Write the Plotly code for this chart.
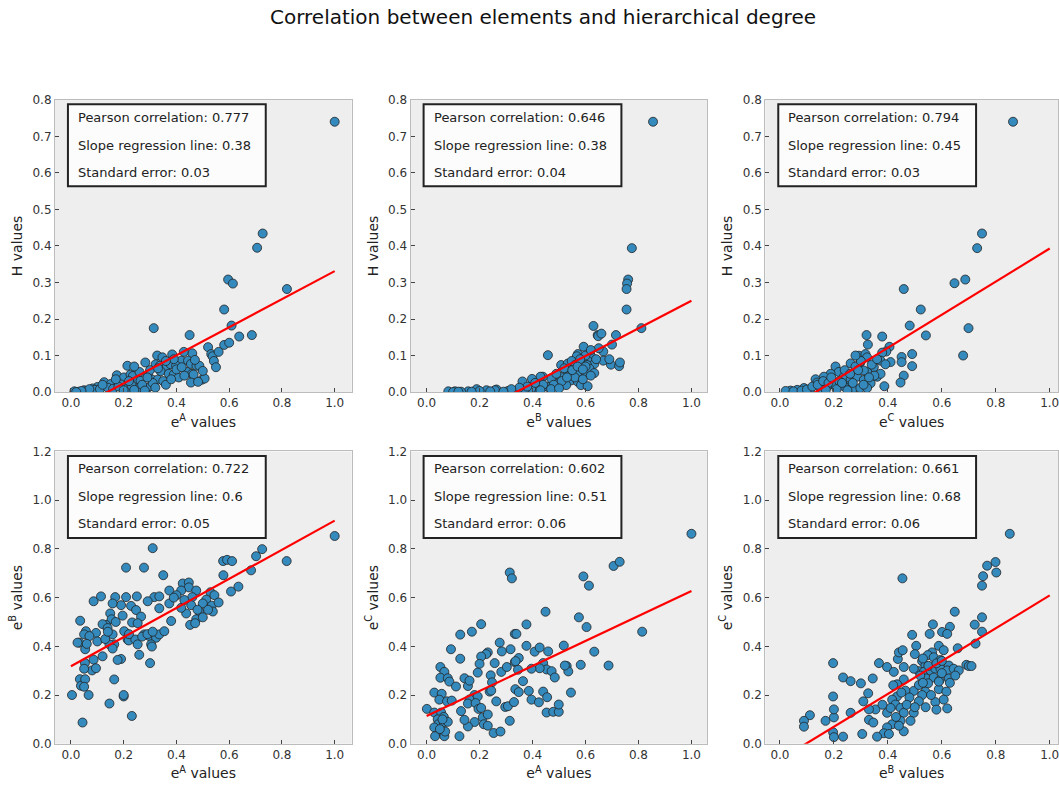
import plotly.graph_objects as go

# ---------------- data ----------------
title_text = "Correlation between elements and hierarchical degree"

x_titles = ["e<sup>A</sup> values", "e<sup>B</sup> values", "e<sup>C</sup> values",
            "e<sup>A</sup> values", "e<sup>A</sup> values", "e<sup>B</sup> values"]
y_titles = ["H values", "H values", "H values",
            "e<sup>B</sup> values", "e<sup>C</sup> values", "e<sup>C</sup> values"]

pearson = ["0.777", "0.646", "0.794", "0.722", "0.602", "0.661"]
slope_txt = ["0.38", "0.38", "0.45", "0.6", "0.51", "0.68"]
std_err = ["0.03", "0.04", "0.03", "0.05", "0.06", "0.06"]

# regression lines as drawn (slope, intercept), over x in [0, 1]
line_slope = [0.384, 0.378, 0.453, 0.598, 0.513, 0.674]
line_intercept = [-0.053, -0.128, -0.06, 0.318, 0.114, -0.065]
line_x = [0.0, 1.0]

x_ticks = [0.0, 0.2, 0.4, 0.6, 0.8, 1.0]
y_ticks_top = [0.0, 0.1, 0.2, 0.3, 0.4, 0.5, 0.6, 0.7, 0.8]
y_ticks_bottom = [0.0, 0.2, 0.4, 0.6, 0.8, 1.0, 1.2]

eA_H = [(1.0,0.74),(0.727,0.434),(0.706,0.395),(0.596,0.308),(0.614,0.297),(0.819,0.282),(0.581,0.226),
 (0.314,0.175),(0.609,0.182),(0.45,0.156),(0.638,0.152),(0.686,0.156),(0.581,0.129),(0.52,0.123),(0.532,0.104),
 (0.537,0.098),(0.542,0.085),(0.55,0.068),(0.46,0.106),(0.428,0.11),(0.384,0.103),(0.327,0.1),(0.347,0.095),
 (0.282,0.081),(0.214,0.072),(0.418,0.086),(0.444,0.086),(0.455,0.077),(0.476,0.072),(0.487,0.072),(0.321,0.076),
 (0.337,0.072),(0.363,0.071),(0.378,0.076),(0.399,0.072),(0.34,0.057),(0.371,0.05),(0.39,0.048),(0.409,0.04),
 (0.44,0.055),(0.459,0.05),(0.465,0.048),(0.497,0.034),(0.507,0.037),(0.455,0.026),(0.482,0.028),(0.174,0.046),
 (0.201,0.04),(0.226,0.048),(0.235,0.044),(0.255,0.034),(0.264,0.031),(0.292,0.045),(0.308,0.034),(0.329,0.034),
 (0.126,0.027),(0.151,0.022),(0.189,0.021),(0.214,0.01),(0.252,0.01),(0.289,0.01),(0.302,0.016),(0.101,0.014),
 (0.082,0.01),(0.05,0.005),(0.013,0.002),(0.03,0.001),(0.06,0.003),(0.09,0.006),(0.11,0.008),(0.14,0.012),
 (0.16,0.009),(0.18,0.015),(0.2,0.005),(0.23,0.018),(0.24,0.006),(0.27,0.02),(0.28,0.004),(0.31,0.025),
 (0.32,0.012),(0.35,0.03),(0.36,0.02),(0.38,0.035),(0.4,0.062),(0.42,0.068),(0.43,0.045),(0.47,0.088),
 (0.5,0.058),(0.39,0.09),(0.3,0.06),(0.26,0.055),(0.24,0.07),(0.36,0.085),(0.33,0.065),(0.29,0.04),
 (0.22,0.03),(0.17,0.035),(0.12,0.02),(0.07,0.008),(0.04,0.003),(0.02,0.0),(0.6,0.135),(0.56,0.11)]

eB_H = [(0.855,0.74),(0.775,0.394),(0.761,0.308),(0.757,0.297),(0.755,0.282),(0.755,0.226),(0.811,0.175),
 (0.63,0.181),(0.646,0.156),(0.648,0.153),(0.715,0.156),(0.70,0.13),(0.667,0.111),(0.667,0.086),(0.696,0.075),
 (0.727,0.071),(0.73,0.081),(0.593,0.124),(0.571,0.104),(0.567,0.098),(0.615,0.104),(0.621,0.098),(0.458,0.101),
 (0.508,0.074),(0.533,0.078),(0.548,0.085),(0.562,0.075),(0.608,0.086),(0.633,0.077),(0.606,0.074),(0.558,0.059),
 (0.579,0.055),(0.602,0.05),(0.615,0.064),(0.633,0.052),(0.533,0.055),(0.504,0.042),(0.47,0.037),(0.439,0.042),
 (0.43,0.042),(0.398,0.036),(0.362,0.029),(0.546,0.032),(0.571,0.028),(0.583,0.019),(0.608,0.016),(0.527,0.019),
 (0.496,0.023),(0.458,0.014),(0.42,0.01),(0.395,0.01),(0.37,0.005),(0.333,0.003),(0.307,0.003),(0.264,0.007),
 (0.258,0.005),(0.226,0.005),(0.189,0.008),(0.157,0.002),(0.107,0.002),(0.082,0.002),(0.52,0.065),(0.54,0.045),
 (0.56,0.04),(0.59,0.035),(0.6,0.07),(0.62,0.045),(0.64,0.09),(0.65,0.12),(0.6,0.1),(0.58,0.09),(0.55,0.06),
 (0.51,0.03),(0.49,0.05),(0.48,0.02),(0.47,0.008),(0.44,0.02),(0.43,0.005),(0.41,0.025),(0.38,0.015),
 (0.35,0.012),(0.32,0.008),(0.29,0.001),(0.24,0.002),(0.2,0.003),(0.17,0.001),(0.13,0.001),(0.1,0.0),
 (0.12,0.001),(0.5,0.01),(0.53,0.04),(0.57,0.07),(0.59,0.062),(0.62,0.115),(0.66,0.16),(0.69,0.09)]

eC_H = [(0.864,0.74),(0.749,0.434),(0.731,0.394),(0.647,0.298),(0.687,0.308),(0.459,0.282),(0.522,0.226),
 (0.481,0.182),(0.699,0.175),(0.541,0.155),(0.679,0.1),(0.321,0.156),(0.379,0.152),(0.326,0.13),(0.406,0.124),
 (0.394,0.111),(0.379,0.108),(0.451,0.096),(0.451,0.082),(0.49,0.104),(0.49,0.071),(0.459,0.045),(0.447,0.026),
 (0.387,0.016),(0.41,0.082),(0.373,0.086),(0.391,0.076),(0.293,0.0995),(0.317,0.104),(0.262,0.0785),(0.298,0.081),
 (0.323,0.095),(0.348,0.068),(0.323,0.055),(0.36,0.042),(0.373,0.05),(0.311,0.059),(0.206,0.07),(0.218,0.055),
 (0.188,0.05),(0.163,0.042),(0.132,0.035),(0.138,0.026),(0.237,0.042),(0.262,0.033),(0.286,0.042),(0.311,0.033),
 (0.336,0.024),(0.249,0.016),(0.274,0.011),(0.298,0.011),(0.323,0.011),(0.237,0.016),(0.2,0.02),(0.175,0.016),
 (0.15,0.011),(0.113,0.008),(0.089,0.011),(0.064,0.006),(0.039,0.004),(0.021,0.003),(0.05,0.002),(0.08,0.004),
 (0.1,0.007),(0.12,0.015),(0.14,0.02),(0.16,0.03),(0.18,0.025),(0.22,0.03),(0.24,0.06),(0.26,0.05),(0.28,0.07),
 (0.3,0.085),(0.31,0.02),(0.34,0.075),(0.35,0.045),(0.27,0.025),(0.25,0.005),(0.21,0.008),(0.19,0.04),
 (0.17,0.006),(0.23,0.025),(0.29,0.06),(0.33,0.04),(0.36,0.09),(0.28,0.1)]

eA_eB = [(1.0,0.853),(0.818,0.75),(0.725,0.799),(0.702,0.77),(0.683,0.712),(0.577,0.75),(0.592,0.755),
 (0.611,0.75),(0.578,0.692),(0.607,0.625),(0.635,0.645),(0.31,0.803),(0.209,0.723),(0.277,0.723),(0.35,0.692),
 (0.424,0.658),(0.447,0.662),(0.447,0.642),(0.475,0.629),(0.418,0.629),(0.373,0.629),(0.4,0.61),(0.46,0.602),
 (0.529,0.622),(0.544,0.61),(0.513,0.592),(0.5,0.576),(0.534,0.567),(0.538,0.543),(0.487,0.543),(0.475,0.511),
 (0.5,0.519),(0.437,0.535),(0.456,0.569),(0.418,0.558),(0.452,0.488),(0.471,0.495),(0.38,0.504),(0.335,0.556),
 (0.373,0.576),(0.316,0.602),(0.335,0.605),(0.291,0.585),(0.086,0.585),(0.114,0.605),(0.168,0.602),(0.209,0.602),
 (0.25,0.605),(0.19,0.569),(0.158,0.576),(0.228,0.566),(0.247,0.549),(0.266,0.522),(0.232,0.498),(0.253,0.495),
 (0.196,0.526),(0.149,0.535),(0.154,0.511),(0.133,0.488),(0.12,0.491),(0.139,0.475),(0.095,0.455),(0.057,0.462),
 (0.05,0.449),(0.07,0.442),(0.032,0.415),(0.025,0.415),(0.054,0.388),(0.035,0.505),(0.202,0.462),(0.215,0.428),
 (0.219,0.424),(0.244,0.428),(0.253,0.408),(0.259,0.365),(0.278,0.449),(0.297,0.442),(0.314,0.452),(0.323,0.435),
 (0.335,0.449),(0.354,0.462),(0.304,0.408),(0.307,0.399),(0.3,0.331),(0.158,0.449),(0.164,0.408),(0.146,0.408),
 (0.158,0.391),(0.12,0.359),(0.086,0.345),(0.08,0.301),(0.095,0.31),(0.053,0.331),(0.05,0.308),(0.19,0.348),
 (0.177,0.344),(0.034,0.265),(0.038,0.238),(0.054,0.265),(0.05,0.234),(0.067,0.2),(0.004,0.2),(0.146,0.165),
 (0.164,0.264),(0.2,0.194),(0.231,0.114),(0.044,0.087),(0.06,0.41),(0.1,0.42),(0.13,0.43),(0.14,0.46),
 (0.17,0.5),(0.22,0.45),(0.27,0.44),(0.29,0.45),(0.31,0.46),(0.39,0.6),(0.43,0.59),(0.48,0.55),(0.52,0.55),
 (0.56,0.58),(0.2,0.2)]

eA_eC = [(1.0,0.862),(0.706,0.73),(0.729,0.747),(0.592,0.687),(0.613,0.649),(0.314,0.703),(0.322,0.679),
 (0.814,0.46),(0.449,0.542),(0.575,0.519),(0.604,0.479),(0.377,0.49),(0.333,0.451),(0.339,0.451),(0.206,0.491),
 (0.171,0.46),(0.127,0.448),(0.092,0.388),(0.127,0.349),(0.276,0.415),(0.317,0.388),(0.284,0.379),(0.231,0.375),
 (0.225,0.368),(0.206,0.358),(0.2,0.328),(0.193,0.292),(0.257,0.331),(0.282,0.295),(0.303,0.315),(0.333,0.335),
 (0.348,0.352),(0.377,0.402),(0.408,0.378),(0.427,0.395),(0.459,0.379),(0.518,0.403),(0.44,0.331),(0.453,0.305),
 (0.427,0.31),(0.472,0.298),(0.484,0.272),(0.396,0.308),(0.345,0.304),(0.336,0.339),(0.582,0.324),(0.529,0.319),
 (0.535,0.297),(0.522,0.321),(0.633,0.378),(0.687,0.321),(0.052,0.315),(0.067,0.295),(0.052,0.271),(0.08,0.269),
 (0.086,0.255),(0.111,0.235),(0.143,0.269),(0.156,0.237),(0.162,0.259),(0.242,0.281),(0.247,0.252),(0.238,0.214),
 (0.263,0.174),(0.244,0.218),(0.181,0.2),(0.193,0.194),(0.162,0.182),(0.156,0.165),(0.185,0.167),(0.196,0.143),
 (0.206,0.147),(0.212,0.108),(0.231,0.12),(0.216,0.08),(0.231,0.074),(0.253,0.044),(0.279,0.05),(0.181,0.089),
 (0.156,0.071),(0.143,0.098),(0.13,0.134),(0.124,0.031),(0.314,0.094),(0.297,0.151),(0.307,0.154),(0.33,0.171),
 (0.335,0.224),(0.348,0.212),(0.364,0.257),(0.386,0.217),(0.396,0.181),(0.424,0.17),(0.44,0.214),(0.455,0.191),
 (0.453,0.128),(0.478,0.131),(0.499,0.131),(0.499,0.161),(0.545,0.21),(0.029,0.21),(0.057,0.205),(0.048,0.181),
 (0.077,0.174),(0.095,0.177),(0.001,0.143),(0.029,0.128),(0.055,0.128),(0.065,0.11),(0.042,0.1),(0.044,0.08),
 (0.065,0.087),(0.029,0.067),(0.061,0.047),(0.032,0.031),(0.067,0.031),(0.07,0.05),(0.05,0.06),(0.08,0.09),
 (0.06,0.1)]

eB_eC = [(0.852,0.862),(0.799,0.746),(0.802,0.703),(0.768,0.731),(0.753,0.688),(0.749,0.649),(0.454,0.679),
 (0.648,0.542),(0.749,0.519),(0.722,0.489),(0.749,0.46),(0.725,0.411),(0.567,0.49),(0.63,0.48),(0.601,0.459),
 (0.62,0.451),(0.555,0.451),(0.49,0.447),(0.505,0.402),(0.5,0.368),(0.589,0.402),(0.607,0.384),(0.659,0.392),
 (0.564,0.375),(0.548,0.364),(0.57,0.355),(0.527,0.339),(0.539,0.321),(0.595,0.344),(0.626,0.321),(0.367,0.331),
 (0.397,0.315),(0.422,0.295),(0.437,0.348),(0.441,0.375),(0.455,0.384),(0.459,0.315),(0.197,0.331),(0.515,0.298),
 (0.533,0.295),(0.558,0.301),(0.576,0.308),(0.595,0.308),(0.62,0.301),(0.644,0.308),(0.663,0.301),(0.691,0.324),
 (0.7,0.319),(0.71,0.319),(0.542,0.268),(0.57,0.272),(0.592,0.261),(0.626,0.268),(0.549,0.248),(0.589,0.224),
 (0.589,0.255),(0.617,0.214),(0.607,0.181),(0.62,0.145),(0.576,0.171),(0.539,0.214),(0.527,0.2),(0.515,0.174),
 (0.496,0.217),(0.515,0.241),(0.496,0.308),(0.459,0.264),(0.434,0.244),(0.465,0.218),(0.434,0.194),(0.416,0.181),
 (0.428,0.161),(0.447,0.147),(0.459,0.127),(0.397,0.127),(0.41,0.147),(0.416,0.08),(0.447,0.094),(0.459,0.051),
 (0.496,0.127),(0.484,0.094),(0.441,0.074),(0.397,0.067),(0.385,0.043),(0.404,0.04),(0.36,0.029),(0.305,0.04),
 (0.234,0.029),(0.197,0.047),(0.2,0.027),(0.169,0.094),(0.111,0.117),(0.089,0.094),(0.089,0.07),(0.2,0.108),
 (0.2,0.141),(0.197,0.194),(0.234,0.272),(0.262,0.257),(0.3,0.248),(0.344,0.268),(0.327,0.207),(0.309,0.174),
 (0.354,0.141),(0.33,0.098),(0.346,0.087),(0.262,0.127),(0.33,0.141),(0.52,0.28),(0.55,0.32),(0.58,0.33),
 (0.6,0.34),(0.53,0.25),(0.56,0.2),(0.48,0.19),(0.47,0.16),(0.5,0.15),(0.45,0.21),(0.42,0.24),(0.54,0.15),
 (0.58,0.14),(0.6,0.29),(0.63,0.25),(0.43,0.11),(0.38,0.16),(0.53,0.35),(0.65,0.28)]

panels = [eA_H, eB_H, eC_H, eA_eB, eA_eC, eB_eC]

# ---------------- layout geometry (pixels) ----------------
W, H = 1059, 791
col_px = [(55, 352), (411, 708), (766, 1059)]
x_ranges = [[-0.0606, 1.0644], [-0.0604, 1.06], [-0.0544, 1.0307]]
row_px = [(94.5, 392.0), (452.5, 750.0)]
y_ranges = [[0.0, 0.8], [0.0, 1.2]]

FONT = "DejaVu Sans"
fig = go.Figure()
shapes = []
annotations = []

for i, pts in enumerate(panels):
    r, c = divmod(i, 3)
    n = i + 1
    xs = [p[0] for p in pts]
    ys = [p[1] for p in pts]
    xa = "x" if n == 1 else f"x{n}"
    ya = "y" if n == 1 else f"y{n}"
    fig.add_trace(go.Scatter(
        x=xs, y=ys, mode="markers", xaxis=xa, yaxis=ya, showlegend=False,
        marker=dict(size=9, color="#348ABD", line=dict(color="#222222", width=0.8)),
        cliponaxis=True))
    ly = [line_slope[i] * v + line_intercept[i] for v in line_x]
    fig.add_trace(go.Scatter(
        x=line_x, y=ly, mode="lines", xaxis=xa, yaxis=ya, showlegend=False,
        line=dict(color="red", width=2.2)))

    x0, x1 = col_px[c]
    y0, y1 = row_px[r]
    common = dict(showgrid=False, zeroline=False, showline=True, mirror=True,
                  linecolor="#bcbcbc", linewidth=1, ticks="inside", ticklen=4,
                  tickcolor="#444444", tickfont=dict(family=FONT, size=12, color="#333333"))
    xkey = "xaxis" if n == 1 else f"xaxis{n}"
    ykey = "yaxis" if n == 1 else f"yaxis{n}"
    xextra = dict(ticklabeloverflow="allow") if c == 2 else {}
    fig.update_layout(**{
        xkey: dict(domain=[x0 / W, x1 / W], range=x_ranges[c], anchor=ya,
                   tickvals=x_ticks, tickformat=".1f",
                   title=dict(text=x_titles[i], standoff=7,
                              font=dict(family=FONT, size=14, color="#222222")),
                   **xextra, **common),
        ykey: dict(domain=[1 - y1 / H, 1 - y0 / H], range=y_ranges[r], anchor=xa,
                   tickvals=(y_ticks_top if r == 0 else y_ticks_bottom), tickformat=".1f",
                   title=dict(text=y_titles[i], standoff=6,
                              font=dict(family=FONT, size=14, color="#222222")),
                   **common),
    })

    # info box
    bx0, bx1 = x0 + 13, x0 + 211
    by0, by1 = y0 + 4.5, y0 + 88.0
    shapes.append(dict(type="rect", xref="paper", yref="paper",
                       x0=bx0 / W, x1=bx1 / W, y0=1 - by1 / H, y1=1 - by0 / H,
                       fillcolor="rgba(255,255,255,0.82)", line=dict(color="#222222", width=2),
                       layer="above"))
    lines = [f"Pearson correlation: {pearson[i]}",
             f"Slope regression line: {slope_txt[i]}",
             f"Standard error: {std_err[i]}"]
    for k, (txt, dy) in enumerate(zip(lines, [17.5, 46.0, 73.5])):
        annotations.append(dict(text=txt, xref="paper", yref="paper",
                                x=(x0 + 21) / W, y=1 - (y0 + dy) / H,
                                xanchor="left", yanchor="middle", showarrow=False,
                                font=dict(family=FONT, size=13, color="#222222")))

fig.update_layout(
    width=W, height=H,
    margin=dict(l=0, r=0, t=0, b=0),
    paper_bgcolor="white", plot_bgcolor="#eeeeee",
    title=dict(text=title_text, x=543 / W, y=1 - 17 / H, xanchor="center", yanchor="middle",
               font=dict(family=FONT, size=20, color="#111111")),
    shapes=shapes, annotations=annotations,
    font=dict(family=FONT),
)

fig.write_html("out.html")
